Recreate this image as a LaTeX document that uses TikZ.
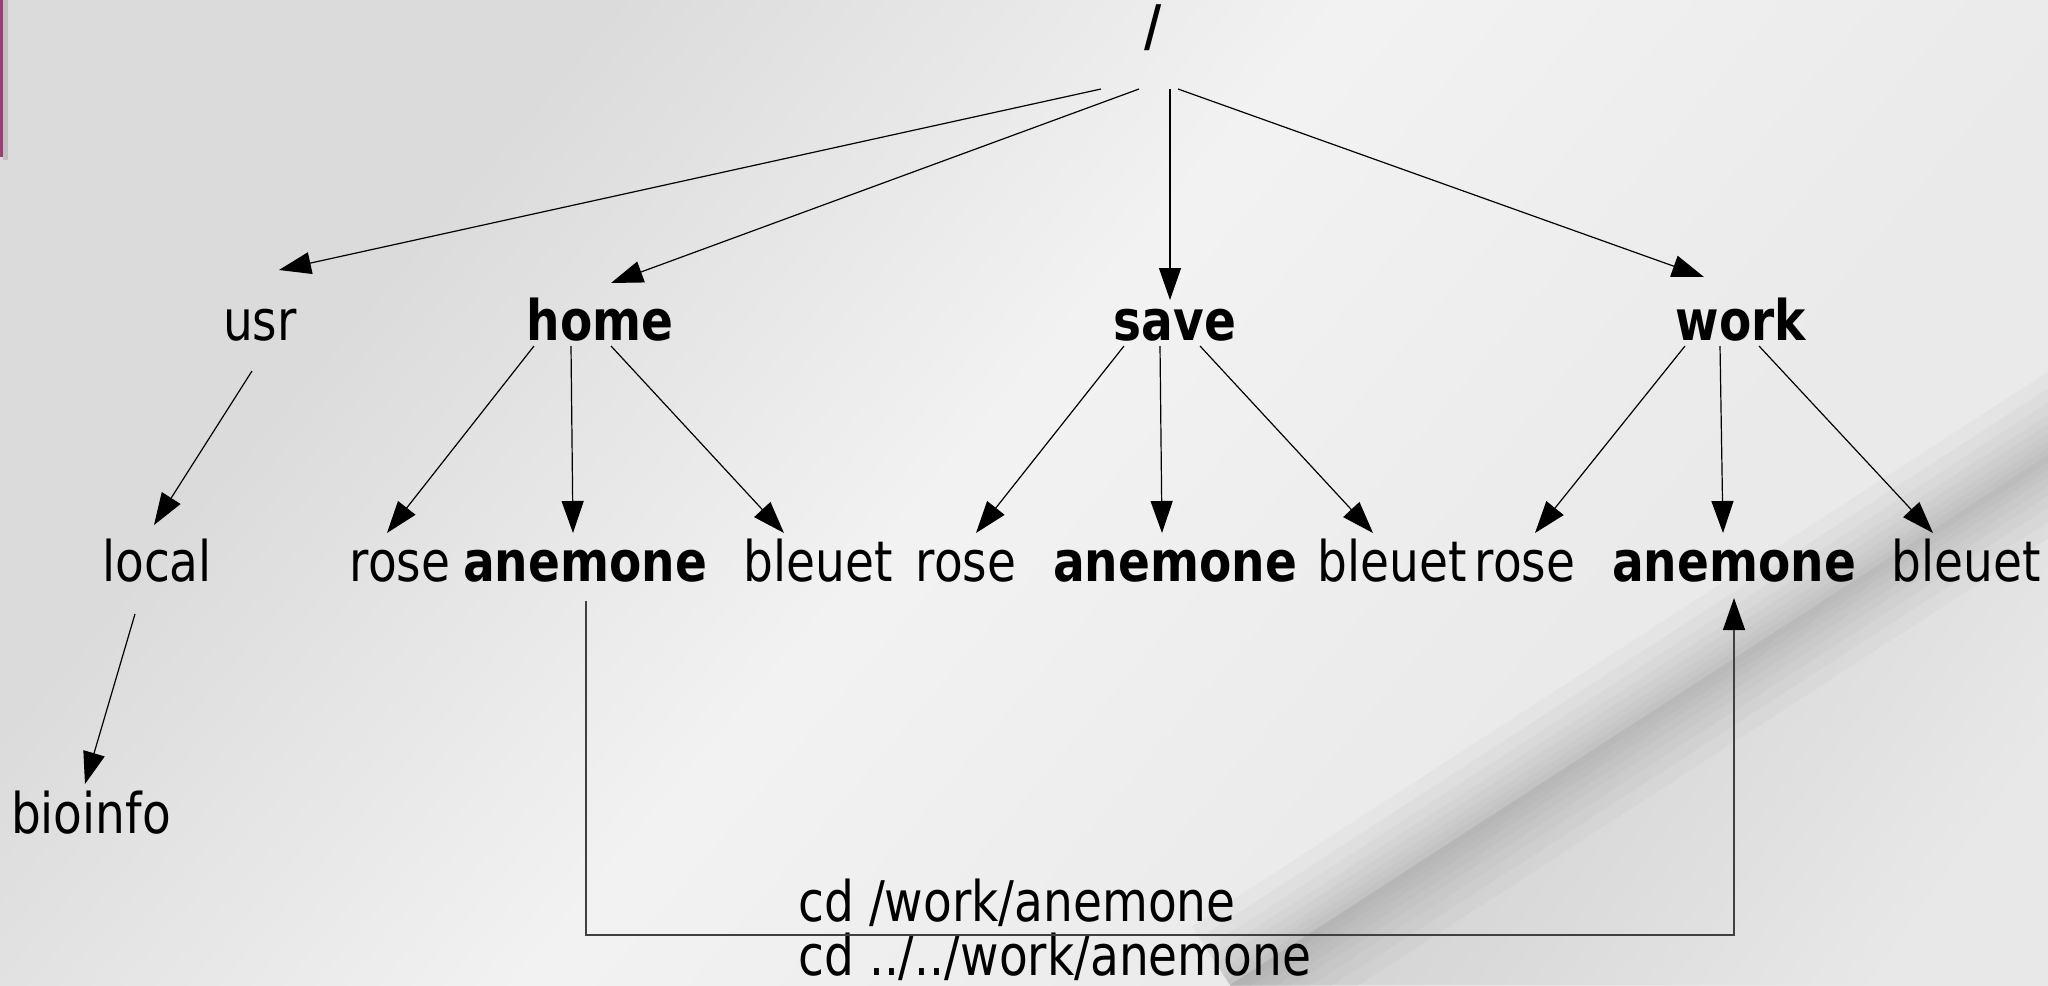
\documentclass[tikz,border=0pt]{standalone}
\usepackage{fontspec}
\setmainfont[FakeStretch=0.84]{DejaVu Sans}
\usetikzlibrary{arrows.meta}
\definecolor{bgA}{gray}{0.86}
\definecolor{bgB}{gray}{0.95}
\definecolor{bgC}{gray}{0.92}
\definecolor{bgD}{gray}{0.90}
\definecolor{lowA}{gray}{0.79}
\definecolor{lowB}{gray}{0.91}
\definecolor{band}{gray}{0.55}
\definecolor{strip}{RGB}{155,60,115}
\pgfdeclarehorizontalshading{bgshade}{100bp}{color(0bp)=(bgA); color(30bp)=(bgA); color(48bp)=(bgB); color(65bp)=(bgC); color(100bp)=(bgD)}
\tikzset{
  lbl/.style={font=\fontsize{28}{34}\selectfont, inner sep=0pt, anchor=base},
  bl/.style={font=\fontsize{28}{34}\selectfont\bfseries, inner sep=0pt, anchor=base},
  arr/.style={-{Triangle[length=16pt,width=11pt]}, line width=0.6pt, black},
}
\begin{document}
\begin{tikzpicture}[x=0.5pt,y=-0.5pt]
\useasboundingbox (0,0) rectangle (2048,985);
% background
\shade[shading=bgshade, shading angle=-40] (0,0) rectangle (2048,985);
\begin{scope}
  \clip (0,0) rectangle (2048,985);
  \shade[top color=lowA, bottom color=lowB, shading angle=55] (1230,985) -- (2048,455) -- (2048,985) -- cycle;
  \foreach \w in {70,56,44,34,26,18,12,6}
    \draw[band, opacity=0.06, line width=\w] (1230,985) -- (2090,428);
\end{scope}
\fill[strip] (0,0) rectangle (3,157);
\fill[black, opacity=0.12] (3,0) rectangle (8,160);
% nodes
\node[bl] (root) at (1153,45) {/};
\node[lbl] (usr) at (260,340) {usr};
\node[bl] (home) at (600,340) {home};
\node[bl] (save) at (1175,340) {save};
\node[bl] (work) at (1741,340) {work};
\node[lbl] (local) at (157,581) {local};
\node[lbl] (rose1) at (400,581) {rose};
\node[bl] (anem1) at (585,581) {anemone};
\node[lbl] (bleu1) at (818,581) {bleuet};
\node[lbl] (rose2) at (966,581) {rose};
\node[bl] (anem2) at (1175,581) {anemone};
\node[lbl] (bleu2) at (1392,581) {bleuet};
\node[lbl] (rose3) at (1525,581) {rose};
\node[bl] (anem3) at (1734,581) {anemone};
\node[lbl] (bleu3) at (1966,581) {bleuet};
\node[lbl] (bioinfo) at (91,833) {bioinfo};
\node[lbl, anchor=base west] (cd1) at (798,921) {cd /work/anemone};
\node[lbl, anchor=base west] (cd2) at (798,975) {cd ../../work/anemone};
\coordinate (low) at (0,935);
\coordinate (s1) at ([shift={(1,20)}]anem1.base);
% connectors
\draw[arr] ([shift={(-52,44)}]root.base) -- ([shift={(19,-70)}]usr.base);
\draw[arr] ([shift={(-14,44)}]root.base) -- ([shift={(11,-57)}]home.base);
\draw[arr] ([shift={(17,44)}]root.base) -- ([shift={(-5,-40)}]save.base);
\draw[arr] ([shift={(25,44)}]root.base) -- ([shift={(-37,-63)}]work.base);
\draw[arr] ([shift={(-8,31)}]usr.base) -- ([shift={(-3,-56)}]local.base);
\draw[arr] ([shift={(-22,33)}]local.base) -- ([shift={(-6,-49)}]bioinfo.base);
\draw[arr] ([shift={(-66,6)}]home.base) -- ([shift={(-13,-48)}]rose1.base);
\draw[arr] ([shift={(-29,6)}]home.base) -- ([shift={(-12,-48)}]anem1.base);
\draw[arr] ([shift={(11,6)}]home.base) -- ([shift={(-34,-48)}]bleu1.base);
\draw[arr] ([shift={(-51,6)}]save.base) -- ([shift={(10,-48)}]rose2.base);
\draw[arr] ([shift={(-15,6)}]save.base) -- ([shift={(-13,-48)}]anem2.base);
\draw[arr] ([shift={(25,6)}]save.base) -- ([shift={(-19,-48)}]bleu2.base);
\draw[arr] ([shift={(-56,6)}]work.base) -- ([shift={(10,-48)}]rose3.base);
\draw[arr] ([shift={(-21,6)}]work.base) -- ([shift={(-11,-48)}]anem3.base);
\draw[arr] ([shift={(18,6)}]work.base) -- ([shift={(-33,-48)}]bleu3.base);
\draw[-{Triangle[length=16pt,width=11pt,black]}, line width=0.6pt, black!75] (s1) -- (s1 |- low) -| ([shift={(0,17)}]anem3.base);
\end{tikzpicture}
\end{document}
